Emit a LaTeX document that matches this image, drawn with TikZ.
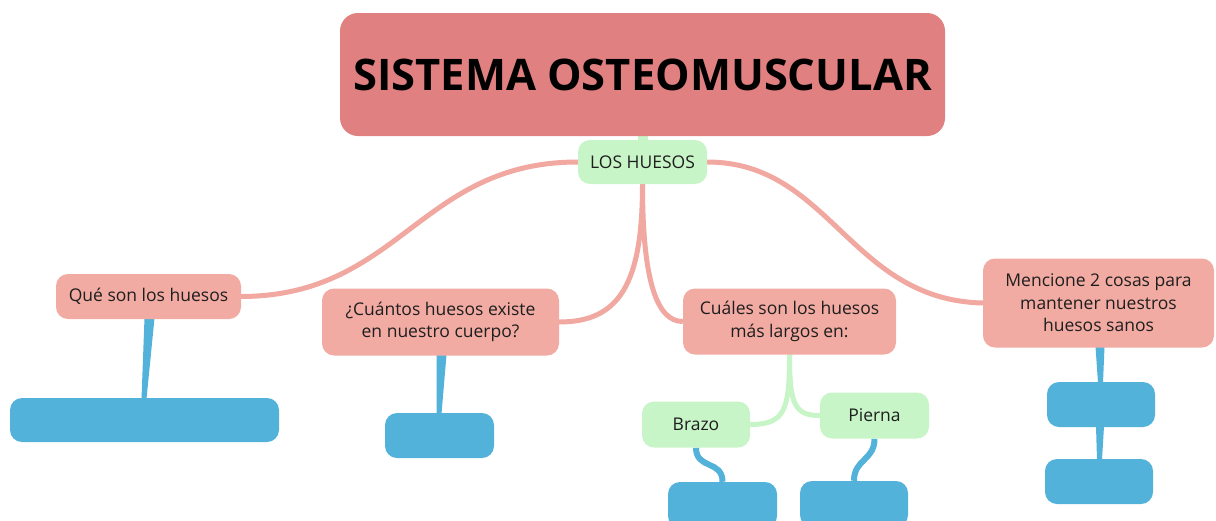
\documentclass[tikz,border=0pt]{standalone}
\usepackage{fontspec}
\setmainfont{Open Sans}
\usetikzlibrary{calc}
\pgfdeclarelayer{bg}
\pgfsetlayers{bg,main}
\definecolor{titlec}{RGB}{224,128,128}
\definecolor{pinkc}{RGB}{242,171,163}
\definecolor{linkc}{RGB}{240,168,160}
\definecolor{greenc}{RGB}{200,245,200}
\definecolor{bluec}{RGB}{82,178,217}
\definecolor{txt}{RGB}{30,30,30}
\begin{document}
\begin{tikzpicture}[x=1pt,y=-1pt,
  box/.style={rounded corners=12pt, inner sep=0pt, align=center, text=txt, font=\fontsize{17.5}{22.5}\selectfont},
  pinkbox/.style={box, fill=pinkc},
  greenbox/.style={box, fill=greenc},
  bluebox/.style={box, fill=bluec},
  titlebox/.style={rounded corners=18pt, inner sep=0pt, fill=titlec, text=black, font=\fontsize{43.5}{50}\bfseries\selectfont},
  pinklink/.style={draw=linkc, line width=5pt},
  greenlink/.style={draw=greenc, line width=5pt},
  bluelink/.style={draw=bluec, line width=6pt},
  bluefill/.style={fill=bluec}
]
\useasboundingbox (0,0) rectangle (1216,520);
\clip (0,0) rectangle (1216,520);

% title
\node[titlebox, minimum width=605pt, minimum height=123pt] (t) at (642.5,74.5) {SISTEMA OSTEOMUSCULAR};

% main
\node[greenbox, minimum width=129pt, minimum height=44pt] (h) at (642.5,162) {LOS HUESOS};

% level 1
\node[pinkbox, minimum width=185pt, minimum height=45pt] (q) at (148.5,296.5) {Qué son los huesos};
\node[pinkbox, minimum width=237pt, minimum height=67pt] (c) at (440.5,322) {¿Cuántos huesos existe\\en nuestro cuerpo?};
\node[pinkbox, minimum width=213pt, minimum height=66pt] (l) at (789.5,321.5) {Cuáles son los huesos\\más largos en:};
\node[pinkbox, minimum width=231pt, minimum height=89pt] (m) at (1098.5,303) {Mencione 2 cosas para\\mantener nuestros\\huesos sanos};

% level 2
\node[greenbox, minimum width=108pt, minimum height=46pt] (b) at (696,424.5) {Brazo};
\node[greenbox, minimum width=109pt, minimum height=46pt] (p) at (874.5,415.5) {Pierna};

% blue boxes
\node[bluebox, minimum width=269pt, minimum height=44pt] (q1) at (144.5,420) {};
\node[bluebox, minimum width=109pt, minimum height=45pt] (c1) at (439.5,435.5) {};
\node[bluebox, minimum width=109pt, minimum height=46pt] (b1) at (722.5,505) {};
\node[bluebox, minimum width=108pt, minimum height=46pt] (p1) at (854,504) {};
\node[bluebox, minimum width=108pt, minimum height=45pt] (m1) at (1101,404.5) {};
\node[bluebox, minimum width=108pt, minimum height=45pt] (m2) at (1099,481.5) {};

\begin{pgfonlayer}{bg}
% title -> main
\path[fill=greenc] ($(t.south)+(-5,-1)$) rectangle ($(h.north)+(5,1)$);

% pink connectors
\path[pinklink] (h.west) .. controls (420,162) and (400,296) .. (q.east);
\path[pinklink] (h.east) .. controls (830,162) and (850,300) .. (m.west);
\path[pinklink] (h.south) .. controls ($(h.south)+(0,100)$) and ($(c.east)+(60,0)$) .. (c.east);
\path[pinklink] (h.south) .. controls ($(h.south)+(0,100)$) and ($(l.west)+(-25,0)$) .. (l.west);

% green connectors
\path[greenlink] (l.south) .. controls ($(l.south)+(0,55)$) and ($(b.east)+(35,0)$) .. (b.east);
\path[greenlink] (l.south) .. controls ($(l.south)+(0,50)$) and ($(p.west)+(-25,0)$) .. (p.west);

% blue connectors (tapered)
\path[bluefill] ($(q.south)+(-4,-1)$) -- ($(q.south)+(6,-1)$) -- ($(q1.north)+(2,1)$) -- ($(q1.north)+(-3,1)$) -- cycle;
\path[bluefill] ($(c.south)+(-4,-1)$) -- ($(c.south)+(6,-1)$) -- ($(c1.north)+(2,1)$) -- ($(c1.north)+(-3,1)$) -- cycle;
\path[bluefill] ($(m.south)+(-3,-1)$) -- ($(m.south)+(6,-1)$) -- ($(m1.north)+(2,1)$) -- ($(m1.north)+(-3,1)$) -- cycle;
\path[bluefill] ($(m1.south)+(-5,-1)$) -- ($(m1.south)+(3,-1)$) -- ($(m2.north)+(3,1)$) -- ($(m2.north)+(-2,1)$) -- cycle;
\path[bluelink] (b.south) .. controls ($(b.south)+(0,22)$) and ($(b1.north)+(0,-22)$) .. (b1.north);
\path[bluelink] (p.south) .. controls ($(p.south)+(0,22)$) and ($(p1.north)+(0,-22)$) .. (p1.north);
\end{pgfonlayer}
\end{tikzpicture}
\end{document}
